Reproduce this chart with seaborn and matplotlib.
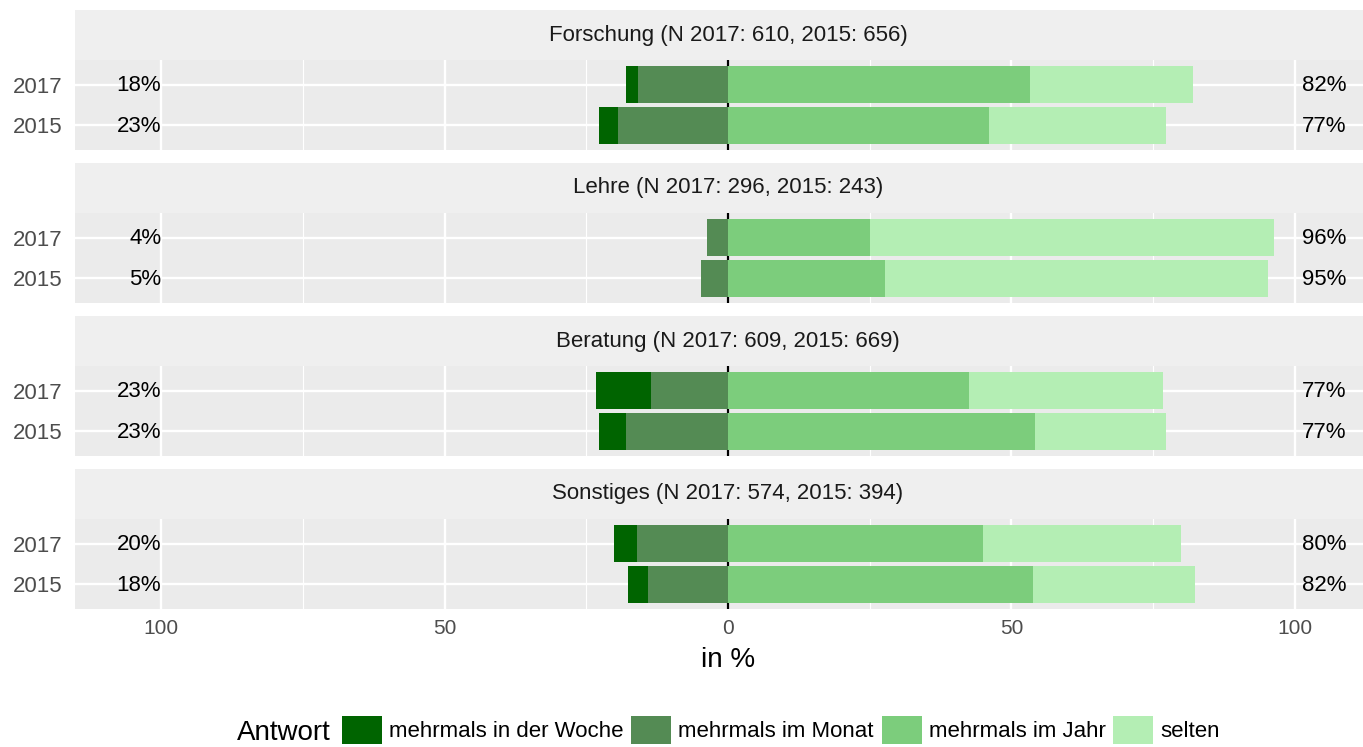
import pandas as pd
import numpy as np
import seaborn as sns
import matplotlib.pyplot as plt
from matplotlib.patches import Patch

plt.rcParams['font.family'] = ['Liberation Sans', 'DejaVu Sans']

# data (percent)
bereiche = ['Forschung', 'Lehre', 'Beratung', 'Sonstiges']
titel = ['Forschung (N 2017: 610, 2015: 656)', 'Lehre (N 2017: 296, 2015: 243)',
         'Beratung (N 2017: 609, 2015: 669)', 'Sonstiges (N 2017: 574, 2015: 394)']
jahre = ['2017', '2015']
woche = [2.1, 3.3, 0.0, 0.0, 9.7, 4.8, 4.0, 3.4]
monat = [15.9, 19.4, 3.7, 4.8, 13.6, 18.0, 16.1, 14.2]
jahr = [53.3, 46.0, 25.0, 27.7, 42.5, 54.1, 45.0, 53.8]
selten = [28.7, 31.3, 71.3, 67.5, 34.2, 23.1, 34.9, 28.6]
antworten = ['mehrmals in der Woche', 'mehrmals im Monat', 'mehrmals im Jahr', 'selten']
farben = ['#006400', '#548B54', '#7CCD7C', '#B4EEB4']

df = pd.DataFrame({
    'bereich': np.repeat(bereiche, 2),
    'jahr_': jahre * 4,
    'woche': woche, 'monat': monat, 'jahr': jahr, 'selten': selten,
})
df['neg_total'] = -(df['woche'] + df['monat'])
df['neg_monat'] = -df['monat']
df['pos_total'] = df['jahr'] + df['selten']

W, H = 1363, 747
fig = plt.figure(figsize=(W / 100, H / 100), dpi=100)
# panels run a little past the right edge (symmetric around 0)
left = 75 / W
width = (1381 - 75) / W

for k, b in enumerate(bereiche):
    sub = df[df['bereich'] == b]
    top = 10 + 153 * k
    # strip
    sax = fig.add_axes([left, 1 - (top + 50) / H, width, 50 / H])
    sax.set_facecolor('#EFEFEF')
    sax.set_xticks([]); sax.set_yticks([])
    for s in sax.spines.values():
        s.set_visible(False)
    sax.text(0.5, 0.5, titel[k], ha='center', va='center', fontsize=16, color='#1A1A1A')

    ax = fig.add_axes([left, 1 - (top + 140) / H, width, 90 / H])
    ax.set_facecolor('#EBEBEB')
    kw = dict(orient='h', order=jahre, width=0.9, saturation=1, errorbar=None,
              linewidth=0, ax=ax, zorder=3)
    sns.barplot(data=sub, y='jahr_', x='neg_total', color=farben[0], **kw)
    sns.barplot(data=sub, y='jahr_', x='neg_monat', color=farben[1], **kw)
    sns.barplot(data=sub, y='jahr_', x='pos_total', color=farben[3], **kw)
    sns.barplot(data=sub, y='jahr_', x='jahr', color=farben[2], **kw)

    for i, (_, r) in enumerate(sub.iterrows()):
        ax.text(-100, i + 0.02, f"{round(r['woche'] + r['monat'])}%", ha='right', va='center',
                fontsize=16, color='black', zorder=5)
        ax.text(101.3, i + 0.02, f"{round(r['jahr'] + r['selten'])}%", ha='left', va='center',
                fontsize=16, color='black', zorder=5)

    ax.axvline(0, color='black', lw=1.6, zorder=2)
    ax.set_xlim(-115.2, 115.2)
    ax.set_ylim(1.6, -0.6)
    ax.set_xticks([-100, -50, 0, 50, 100])
    ax.set_xticks([-75, -25, 25, 75], minor=True)
    ax.grid(which='major', axis='both', color='white', lw=1.7, zorder=0)
    ax.grid(which='minor', axis='x', color='white', lw=0.8, zorder=0)
    ax.set_axisbelow(True)
    for s in ax.spines.values():
        s.set_visible(False)
    ax.set_ylabel('')
    ax.set_xlabel('')
    ax.tick_params(axis='y', labelsize=16, labelcolor='#4D4D4D', length=0, pad=9)
    ax.tick_params(axis='x', which='both', length=0)
    if k == 3:
        ax.set_xticklabels(['100', '50', '0', '50', '100'])
        ax.tick_params(axis='x', labelsize=15, labelcolor='#4D4D4D', pad=7)
        ax.set_xlabel('in %', fontsize=20, color='black', labelpad=7)
    else:
        ax.set_xticklabels([])

handles = [Patch(facecolor=c, edgecolor='none') for c in farben]
fig.legend(handles, antworten, loc='center', bbox_to_anchor=(781 / W, 1 - 730 / H),
           ncol=4, frameon=False, fontsize=16, handlelength=1.8, handleheight=1.5,
           handletextpad=0.32, columnspacing=0.35, borderpad=0)
fig.text(237 / W, 1 - 733 / H, 'Antwort', ha='left', va='center', fontsize=20)

fig.savefig('out.png', dpi=100)
